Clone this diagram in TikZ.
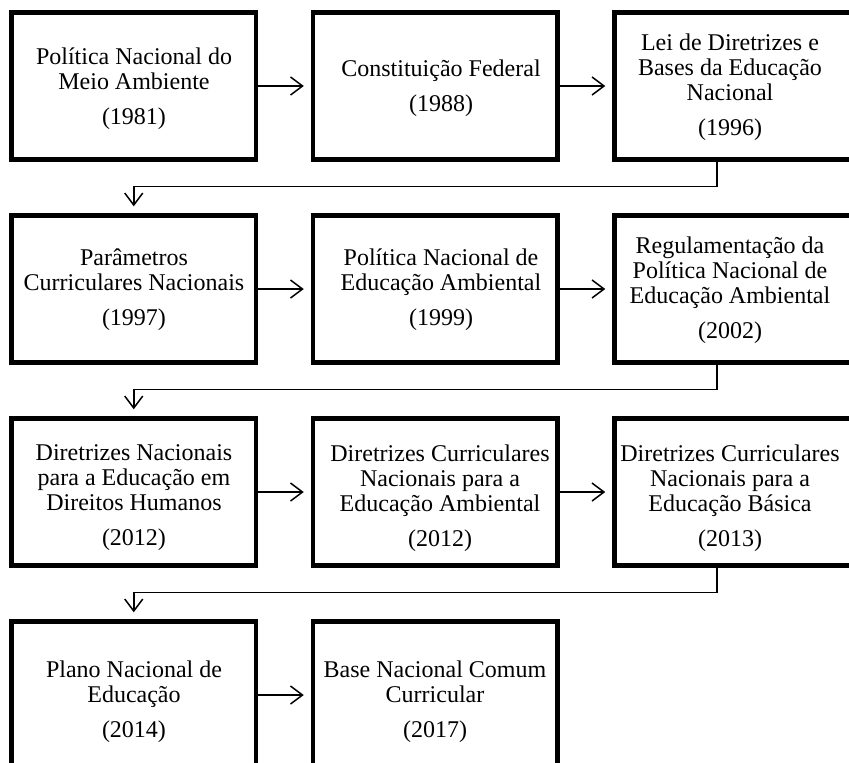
\documentclass[tikz,border=0pt]{standalone}
\usepackage{fontspec}
\setmainfont{Liberation Serif}
\usetikzlibrary{arrows.meta}
\tikzset{
  boxst/.style={draw=black, line width=4.5pt, rectangle, minimum width=244.5pt, minimum height=147pt, inner sep=0pt},
  txt/.style={align=center, inner sep=0pt, font=\fontsize{24}{25}\selectfont},
  conn/.style={draw=black, line width=1.5pt, -{Straight Barb[length=12pt,width=18pt]}, shorten >=7pt},
}
\newcommand{\yr}[1]{\\[10pt]#1}
\begin{document}
\begin{tikzpicture}[x=1pt,y=-1pt]
\useasboundingbox (0,0) rectangle (849,763);
\clip (0,0) rectangle (849,763);
% boxes
\node[boxst] (b11) at (133.75,86) {};
\node[boxst] (b12) at (435.25,86) {};
\node[boxst] (b13) at (736.75,86) {};
\node[boxst] (b21) at (133.75,289) {};
\node[boxst] (b22) at (435.25,289) {};
\node[boxst] (b23) at (736.75,289) {};
\node[boxst] (b31) at (133.75,492) {};
\node[boxst] (b32) at (435.25,492) {};
\node[boxst] (b33) at (736.75,492) {};
\node[boxst] (b41) at (133.75,695) {};
\node[boxst] (b42) at (435.25,695) {};
% texts
\node[txt] (t11) at (134,89) {Política Nacional do\\Meio Ambiente\yr{(1981)}};
\node[txt] (t12) at (441,88) {Constituição Federal\yr{(1988)}};
\node[txt] (t13) at (730,87) {Lei de Diretrizes e\\Bases da Educação\\Nacional\yr{(1996)}};
\node[txt] (t21) at (134,290) {Parâmetros\\Curriculares Nacionais\yr{(1997)}};
\node[txt] (t22) at (441,290) {Política Nacional de\\Educação Ambiental\yr{(1999)}};
\node[txt] (t23) at (730,290) {Regulamentação da\\Política Nacional de\\Educação Ambiental\yr{(2002)}};
\node[txt] (t31) at (134,498) {Diretrizes Nacionais\\para a Educação em\\Direitos Humanos\yr{(2012)}};
\node[txt] (t32) at (440,498) {Diretrizes Curriculares\\Nacionais para a\\Educação Ambiental\yr{(2012)}};
\node[txt] (t33) at (730,498) {Diretrizes Curriculares\\Nacionais para a\\Educação Básica\yr{(2013)}};
\node[txt] (t41) at (134,702) {Plano Nacional de\\Educação\yr{(2014)}};
\node[txt] (t42) at (435,702) {Base Nacional Comum\\Curricular\yr{(2017)}};
% horizontal arrows
\draw[conn] (b11.east) -- (b12.west);
\draw[conn] (b12.east) -- (b13.west);
\draw[conn] (b21.east) -- (b22.west);
\draw[conn] (b22.east) -- (b23.west);
\draw[conn] (b31.east) -- (b32.west);
\draw[conn] (b32.east) -- (b33.west);
\draw[conn] (b41.east) -- (b42.west);
% row-change connectors
\draw[conn] ([xshift=-19.75pt]b13.south) -- ++(0,24.75) -| (b21.north);
\draw[conn] ([xshift=-19.75pt]b23.south) -- ++(0,24.75) -| (b31.north);
\draw[conn] ([xshift=-19.75pt]b33.south) -- ++(0,24.75) -| (b41.north);
\end{tikzpicture}
\end{document}
